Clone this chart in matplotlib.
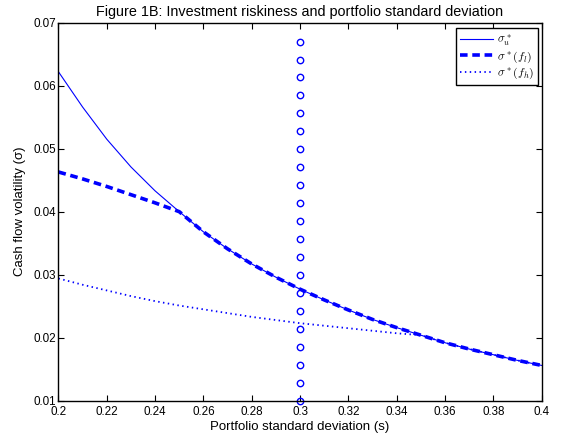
import numpy as np
import matplotlib
matplotlib.use('Agg')
import matplotlib.pyplot as plt

plt.rcParams['font.family'] = ['Liberation Sans', 'DejaVu Sans']
plt.rcParams['mathtext.fontset'] = 'cm'

# --- data ---
s = [0.20, 0.21, 0.22, 0.23, 0.24, 0.25, 0.26, 0.27, 0.28, 0.29, 0.30,
     0.31, 0.32, 0.33, 0.34, 0.35, 0.36, 0.37, 0.38, 0.39, 0.40]

sigma_u = [0.0622, 0.0566, 0.0515, 0.0471, 0.0433, 0.0400, 0.0368, 0.0341,
           0.0317, 0.0296, 0.0277, 0.0260, 0.0244, 0.0229, 0.0216, 0.0204,
           0.0192, 0.0182, 0.0173, 0.0164, 0.0156]

sigma_fl = [0.0463, 0.0452, 0.0440, 0.0427, 0.0414, 0.0400, 0.0368, 0.0341,
            0.0317, 0.0296, 0.0277, 0.0260, 0.0244, 0.0229, 0.0216, 0.0204,
            0.0192, 0.0182, 0.0173, 0.0164, 0.0156]

sigma_fh = [0.0294, 0.0284, 0.0275, 0.0266, 0.0258, 0.0251, 0.0245, 0.0239,
            0.0233, 0.0228, 0.0223, 0.0219, 0.0215, 0.0211, 0.0207, 0.0204,
            0.0192, 0.0182, 0.0173, 0.0164, 0.0156]

# vertical column of circles at s = 0.3
circ_s = 0.3
circ_y = [0.0100, 0.01285, 0.0157, 0.01855, 0.0214, 0.02425, 0.0271,
          0.02995, 0.0328, 0.03565, 0.0385, 0.04135, 0.0442, 0.04705,
          0.0499, 0.05275, 0.0556, 0.05845, 0.0613, 0.06415, 0.0670]

xticks = [0.2, 0.22, 0.24, 0.26, 0.28, 0.3, 0.32, 0.34, 0.36, 0.38, 0.4]
xticklabels = ['0.2', '0.22', '0.24', '0.26', '0.28', '0.3', '0.32', '0.34', '0.36', '0.38', '0.4']
yticks = [0.01, 0.02, 0.03, 0.04, 0.05, 0.06, 0.07]
yticklabels = ['0.01', '0.02', '0.03', '0.04', '0.05', '0.06', '0.07']

# --- plot ---
fig = plt.figure(figsize=(5.69, 4.37), dpi=100)
ax = fig.add_axes([0.1028, 0.0831, 0.849, 0.865])

blue = (0, 0, 1)
ax.plot(s, sigma_u, color=blue, lw=0.8, label=r'$\sigma_u^*$')
ax.plot(s, sigma_fl, color=blue, lw=2.6, dashes=(2.1, 1.3), label=r'$\sigma^*(f_l)$')
ax.plot(s, sigma_fh, color=blue, lw=1.3, dashes=(0.8, 1.9), label=r'$\sigma^*(f_h)$')
ax.plot([circ_s] * len(circ_y), circ_y, 'o', color=blue, mfc='none',
        ms=4.6, mew=1.0, clip_on=False)

ax.set_xlim(0.2, 0.4)
ax.set_ylim(0.01, 0.07)
ax.set_xticks(xticks)
ax.set_xticklabels(xticklabels)
ax.set_yticks(yticks)
ax.set_yticklabels(yticklabels)
ax.tick_params(direction='in', top=True, right=True, length=4, width=0.8,
               labelsize=8.4, pad=2)
ax.tick_params(axis='x', pad=4)
for sp in ax.spines.values():
    sp.set_linewidth(1.0)

ax.set_title('Figure 1B: Investment riskiness and portfolio standard deviation',
             fontsize=10.4, pad=5)
ax.set_xlabel('Portfolio standard deviation (s)', fontsize=9.5, labelpad=2)
ax.set_ylabel('Cash flow volatility (σ)', fontsize=9.5, labelpad=5)

leg = ax.legend(loc='upper right', bbox_to_anchor=(0.992, 0.985),
                borderaxespad=0, fontsize=8.6, handlelength=2.8,
                fancybox=False, framealpha=1, edgecolor='black',
                borderpad=0.3, labelspacing=0.12, handletextpad=0.3)
leg.get_frame().set_linewidth(1.0)

fig.savefig('out.png', dpi=100)
